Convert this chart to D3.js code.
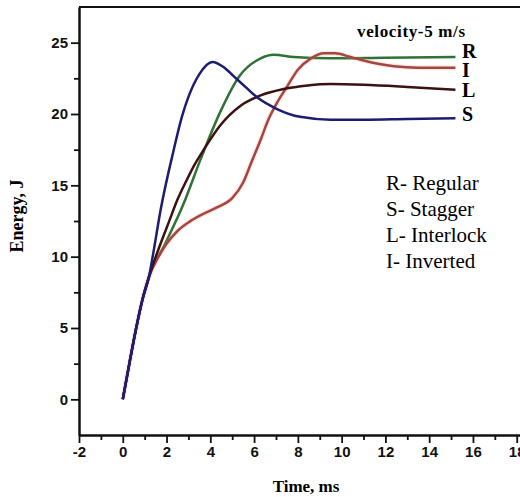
<!DOCTYPE html>
<html lang="en">
<head>
    <meta charset="UTF-8">
    <title>Energy vs Time</title>
    <script src="https://d3js.org/d3.v7.min.js"></script>
    <style>
        body {
            margin: 0;
            padding: 0;
            background-color: #fff;
        }
        svg {
            display: block;
        }
        .tick text {
            font-family: "Liberation Sans", Arial, sans-serif;
            font-weight: bold;
            font-size: 15px;
            fill: #111;
        }
        .serif {
            font-family: "Liberation Serif", "Times New Roman", serif;
            fill: #000;
        }
    </style>
</head>
<body>
    <svg id="chart" width="520" height="497"></svg>
    <script>
        // curves: [time ms, energy J]
        const regular = [[0, 0], [0.3, 2.5], [0.6, 4.9], [0.9, 7.0], [1.2, 8.6], [1.9, 10.8], [2.75, 13.6],
            [3.55, 16.8], [4.47, 20.2], [5.35, 22.7], [6.3, 23.9], [6.9, 24.15], [7.8, 24.0], [9.5, 23.9],
            [12, 23.95], [15.2, 24.0]];
        const stagger = [[0, 0], [0.3, 2.5], [0.6, 4.9], [0.9, 7.0], [1.2, 8.6], [1.4, 10.3], [1.72, 13.2],
            [2.33, 17.5], [2.7, 19.8], [3.0, 21.2], [3.5, 22.8], [4.1, 23.65], [4.6, 23.3], [5.1, 22.6],
            [5.6, 21.9], [6.15, 21.15], [7.05, 20.35], [8.1, 19.8], [9.5, 19.6], [11, 19.6], [13, 19.65],
            [15.2, 19.7]];
        const interlock = [[0, 0], [0.3, 2.5], [0.6, 4.9], [0.9, 7.0], [1.2, 8.6], [1.7, 10.8], [2.1, 12.4],
            [2.5, 14.0], [2.9, 15.3], [3.3, 16.5], [3.7, 17.5], [4.45, 19.2], [5.4, 20.6], [6.3, 21.3],
            [7.35, 21.75], [8.45, 22.0], [9.5, 22.1], [11, 22.05], [13, 21.9], [15.2, 21.7]];
        const inverted = [[0, 0], [0.3, 2.5], [0.6, 4.9], [0.9, 7.0], [1.2, 8.6], [1.6, 9.9], [2.0, 10.9],
            [2.5, 11.8], [3.0, 12.4], [3.55, 12.9], [4.3, 13.45], [5.0, 14.1], [5.5, 15.2], [5.9, 16.7],
            [6.3, 18.2], [6.65, 19.6], [7.05, 20.8], [7.5, 21.9], [8.0, 23.1], [8.6, 23.9], [9.2, 24.25],
            [9.7, 24.25], [10.4, 24.0], [11.0, 23.75], [12.4, 23.35], [13.5, 23.25], [15.2, 23.25]];

        const xTicks = [-2, 0, 2, 4, 6, 8, 10, 12, 14, 16, 18];
        const xMinor = [-1, 1, 3, 5, 7, 9, 11, 13, 15, 17];
        const yTicks = [0, 5, 10, 15, 20, 25];
        const yMinor = [2.5, 7.5, 12.5, 17.5, 22.5];

        const series = [
            { name: "R", data: regular, color: "#2f7233" },
            { name: "I", data: inverted, color: "#a4463f", glow: "rgba(240,150,150,0.22)" },
            { name: "L", data: interlock, color: "#3d1111" },
            { name: "S", data: stagger, color: "#1c1c72" }
        ];
        const legendLines = ["R- Regular", "S- Stagger", "L- Interlock", "I- Inverted"];

        const svg = d3.select("#chart");

        const x = d3.scaleLinear().domain([-2, 18.15]).range([79, 520]);
        const y = d3.scaleLinear().domain([-2.5, 27.5]).range([435, 7]);

        // frame top line
        svg.append("line")
            .attr("x1", x.range()[0]).attr("x2", x.range()[1])
            .attr("y1", y.range()[1]).attr("y2", y.range()[1])
            .attr("stroke", "#111").attr("stroke-width", 2);

        function styleAxis(g) {
            g.select(".domain").attr("stroke", "#111").attr("stroke-width", 2);
            g.selectAll(".tick line").attr("stroke", "#111").attr("stroke-width", 1.8);
        }

        const plain = d => String(d);

        svg.append("g")
            .attr("transform", `translate(0,${y.range()[0]})`)
            .call(d3.axisBottom(x).tickValues(xMinor).tickSize(5).tickSizeOuter(0).tickFormat(""))
            .call(styleAxis);
        svg.append("g")
            .attr("transform", `translate(0,${y.range()[0]})`)
            .call(d3.axisBottom(x).tickValues(xTicks).tickSize(8).tickSizeOuter(0).tickPadding(3).tickFormat(plain))
            .call(styleAxis);

        svg.append("g")
            .attr("transform", `translate(${x.range()[0]},0)`)
            .call(d3.axisLeft(y).tickValues(yMinor).tickSize(5).tickSizeOuter(0).tickFormat(""))
            .call(styleAxis);
        svg.append("g")
            .attr("transform", `translate(${x.range()[0]},0)`)
            .call(d3.axisLeft(y).tickValues(yTicks).tickSize(8).tickSizeOuter(0).tickPadding(3).tickFormat(plain))
            .call(styleAxis);

        const line = d3.line()
            .x(d => x(d[0]))
            .y(d => y(d[1]))
            .curve(d3.curveMonotoneX);

        series.forEach(s => {
            if (s.glow) {
                svg.append("path")
                    .attr("d", line(s.data))
                    .attr("fill", "none")
                    .attr("stroke", s.glow)
                    .attr("stroke-width", 5);
            }
            svg.append("path")
                .attr("d", line(s.data))
                .attr("fill", "none")
                .attr("stroke", s.color)
                .attr("stroke-width", 2.5)
                .attr("stroke-linejoin", "round");
        });

        // end labels
        const endBase = { R: 58, I: 77, L: 97, S: 121 };
        series.forEach(s => {
            svg.append("text")
                .attr("class", "serif")
                .attr("x", 462)
                .attr("y", endBase[s.name])
                .style("font-size", "20px")
                .style("font-weight", "bold")
                .text(s.name);
        });

        svg.append("text")
            .attr("class", "serif")
            .attr("x", 357)
            .attr("y", 37)
            .style("font-size", "17px")
            .style("font-weight", "bold")
            .attr("textLength", 108)
            .text("velocity-5 m/s");

        legendLines.forEach((t, i) => {
            svg.append("text")
                .attr("class", "serif")
                .attr("x", 386)
                .attr("y", 190 + i * 26)
                .style("font-size", "21px")
                .text(t);
        });

        svg.append("text")
            .attr("class", "serif")
            .attr("x", 306)
            .attr("y", 492)
            .attr("text-anchor", "middle")
            .style("font-size", "17px")
            .style("font-weight", "bold")
            .text("Time, ms");

        svg.append("text")
            .attr("class", "serif")
            .attr("transform", "translate(23,216) rotate(-90)")
            .attr("text-anchor", "middle")
            .style("font-size", "18px")
            .style("font-weight", "bold")
            .text("Energy, J");
    </script>
</body>
</html>
